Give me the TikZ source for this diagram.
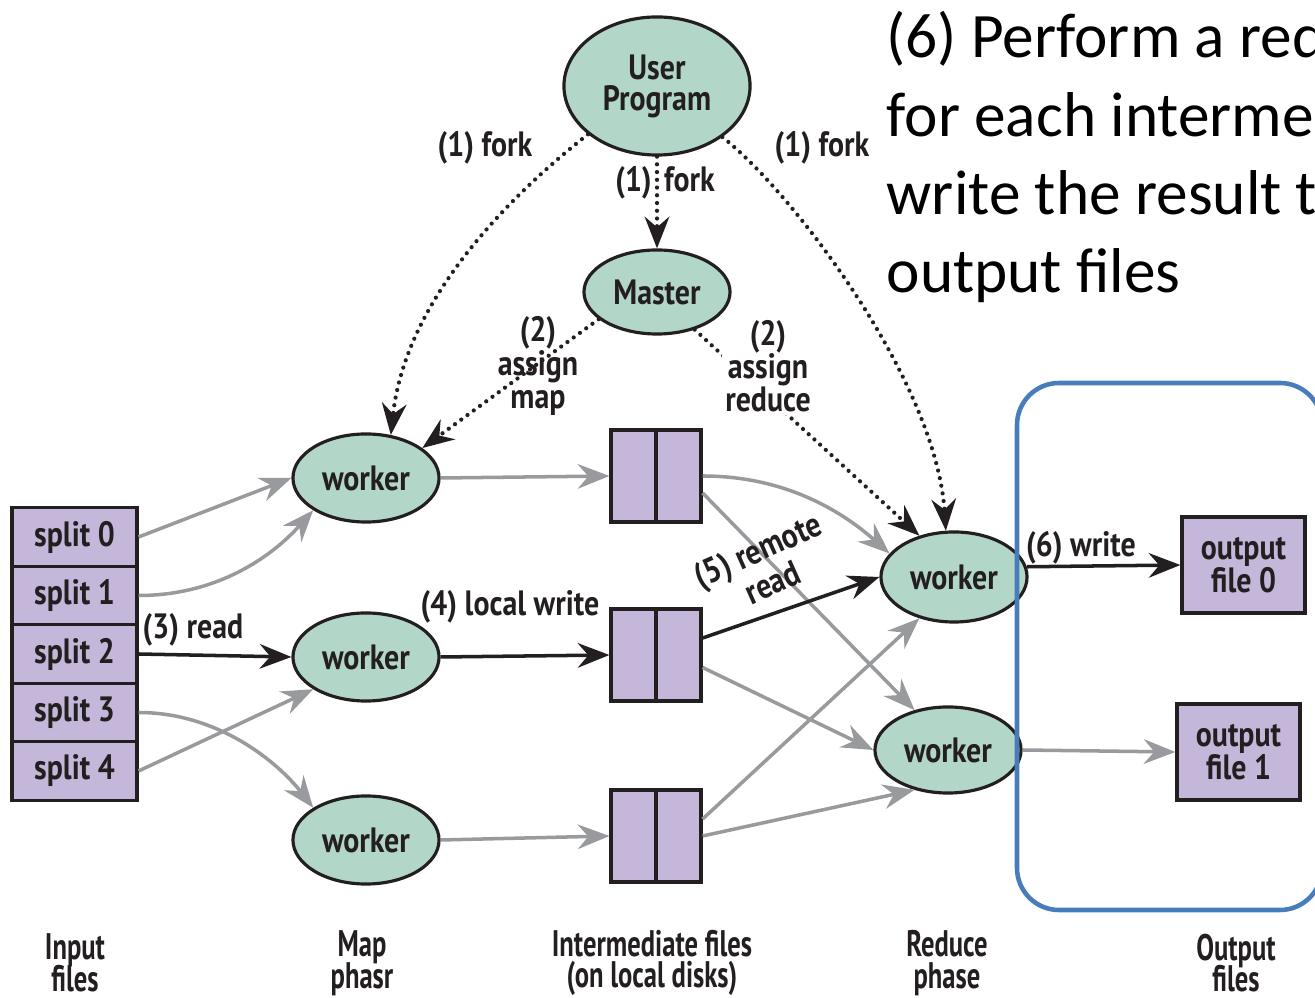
\documentclass[tikz,border=0pt]{standalone}
\usepackage{fontspec}
\setmainfont{PT Sans}
\newfontfamily\figfont[FakeStretch=0.85]{PT Sans}
\newfontfamily\capfont[FakeStretch=0.72]{PT Sans}
\newfontfamily\slidefont{Carlito}
\usetikzlibrary{shapes.geometric,arrows.meta}
\definecolor{wkgreen}{RGB}{178,214,200}
\definecolor{filepurple}{RGB}{197,183,217}
\definecolor{arrowgray}{RGB}{152,154,157}
\definecolor{boxblue}{RGB}{72,125,188}
\definecolor{inkdark}{RGB}{35,31,32}
\newcommand\phasefont{\capfont\bfseries\fontsize{10.5}{9}\selectfont\lineskiplimit=-20pt\relax}

\begin{document}
\begin{tikzpicture}
  [x=0.01cm,y=-0.01cm,
   every node/.style={font=\figfont\bfseries\fontsize{10}{9.4}\selectfont,text=inkdark},
   wk/.style={ellipse,draw=inkdark,line width=0.9pt,fill=wkgreen,inner sep=0pt,
     minimum width=1.46cm,minimum height=0.88cm},
   split/.style={rectangle,draw=inkdark,line width=0.9pt,fill=filepurple,inner sep=0pt,
     minimum width=1.25cm,minimum height=0.585cm},
   imd/.style={rectangle,draw=inkdark,line width=0.9pt,fill=filepurple,inner sep=0pt,
     minimum width=0.9cm,minimum height=0.92cm},
   outf/.style={rectangle,draw=inkdark,line width=0.9pt,fill=filepurple,inner sep=0pt,
     minimum width=1.23cm,minimum height=0.96cm,align=center},
   phaselbl/.style={align=center,inner sep=1pt,font=\phasefont},
   mrtip/.style={-{Stealth[length=9pt,width=7pt,inset=3pt]}},
   gry/.style={draw=arrowgray,line width=1pt,mrtip},
   blk/.style={draw=inkdark,line width=1pt,mrtip},
   forkline/.style={draw=inkdark,line width=1.2pt,dash pattern=on 0pt off 2.2pt,
     line cap=round,mrtip}]
  \useasboundingbox (0,0) rectangle (1315,998);
  \clip (0,0) rectangle (1315,998);

  % master side
  \node[wk,minimum width=1.86cm,minimum height=1.38cm,align=center,
    font=\figfont\bfseries\fontsize{10}{8.8}\selectfont] (up) at (657,86) {User\\Program};
  \node[wk,minimum height=0.84cm] (master) at (657,292) {Master};

  % map workers
  \node[wk] (w0) at (366,478) {worker};
  \node[wk] (w1) at (366,657) {worker};
  \node[wk] (w2) at (366,840) {worker};

  % reduce workers
  \node[wk,minimum height=0.9cm] (rw0) at (954,577) {worker};
  \node[wk,minimum height=0.86cm] (rw1) at (948,750) {worker};

  % input splits
  \foreach \i in {0,...,4}
    \node[split] (s\i) at (74.5,{537+58.5*\i}) {split \i};

  % intermediate files
  \foreach \n/\y in {b0/476,b1/655,b2/836}{
    \node[imd] (\n) at (656,\y) {};
    \draw[line width=0.9pt,draw=inkdark] (\n.north) -- (\n.south);
  }

  % output files
  \node[outf] (o0) at (1243.5,565) {output\\file 0};
  \node[outf] (o1) at (1238.5,752) {output\\file 1};

  % data flow
  \foreach \from/\to in {s0.east/w0.west,s4.east/w1.south west,w0.east/b0.west,
      w2.east/b2.west,b0.-20/rw1.130,b1.-15/rw1.west,b2.20/rw0.230,
      b2.east/rw1.230,rw1.east/o1.west}
    \draw[gry] (\from) -- (\to);
  \draw[gry] (s1.east) .. controls +(80,0) and +(-40,45) .. (w0.south west);
  \draw[gry] (s3.east) .. controls +(80,0) and +(-35,-45) .. (w2.north west);
  \draw[gry] (b0.east) .. controls +(85,0) and +(-45,-40) .. (rw0.160);

  \foreach \from/\to in {s2.east/w1.west,w1.east/b1.west,b1.20/rw0.west,rw0.8/o0.west}
    \draw[blk] (\from) -- (\to);

  % fork and assign
  \draw[forkline] (up.215) .. controls +(-70,55) and +(15,-140) .. (w0.60);
  \draw[forkline] (up.south) -- (master.north);
  \draw[forkline] (up.-38) .. controls +(70,55) and +(-10,-150) .. (rw0.100);
  \draw[forkline] (master.205) -- (w0.28);
  \draw[forkline] (master.-45) -- (rw0.130);

  % labels
  \node (f1) at (485,148) {(1) fork};
  \node (f2) at (665,183) {(1)\hspace{3.5pt}fork};
  \node (f3) at (822,148) {(1) fork};
  \node[align=center] (a1) at (538,366) {(2)\\assign\\map};
  \node[align=center,fill=white,inner sep=1pt] (a2) at (768,366) {(2)\\assign\\reduce};
  \node (r3) at (193,630) {(3) read};
  \node (r4) at (510,607) {(4) local write};
  \node[align=center,rotate=24,font=\figfont\bfseries\fontsize{10}{8.8}\selectfont]
    (r5) at (765,566) {(5) remote\\read};
  \node (r6) at (1081,548) {(6) write};

  \node[phaselbl] (c0) at (75,963) {Input\\files};
  \node[phaselbl] (c1) at (362,963) {Map\\phasr};
  \node[phaselbl] (c2) at (652,963) {Intermediate files\\(on local disks)};
  \node[phaselbl] (c3) at (947,963) {Reduce\\phase};
  \node[phaselbl] (c4) at (1236,963) {Output\\files};

  \node[anchor=north west,inner sep=0pt,align=left,text=black,
    font=\slidefont\fontsize{18}{22.2}\selectfont] (note) at (886,11)
    {(6) Perform a reduce\\for each intermediate\\write the result to\\output files};

  \draw[boxblue,line width=1.3pt,rounded corners=0.42cm] (1017,383) rectangle (1322,910);
\end{tikzpicture}
\end{document}
